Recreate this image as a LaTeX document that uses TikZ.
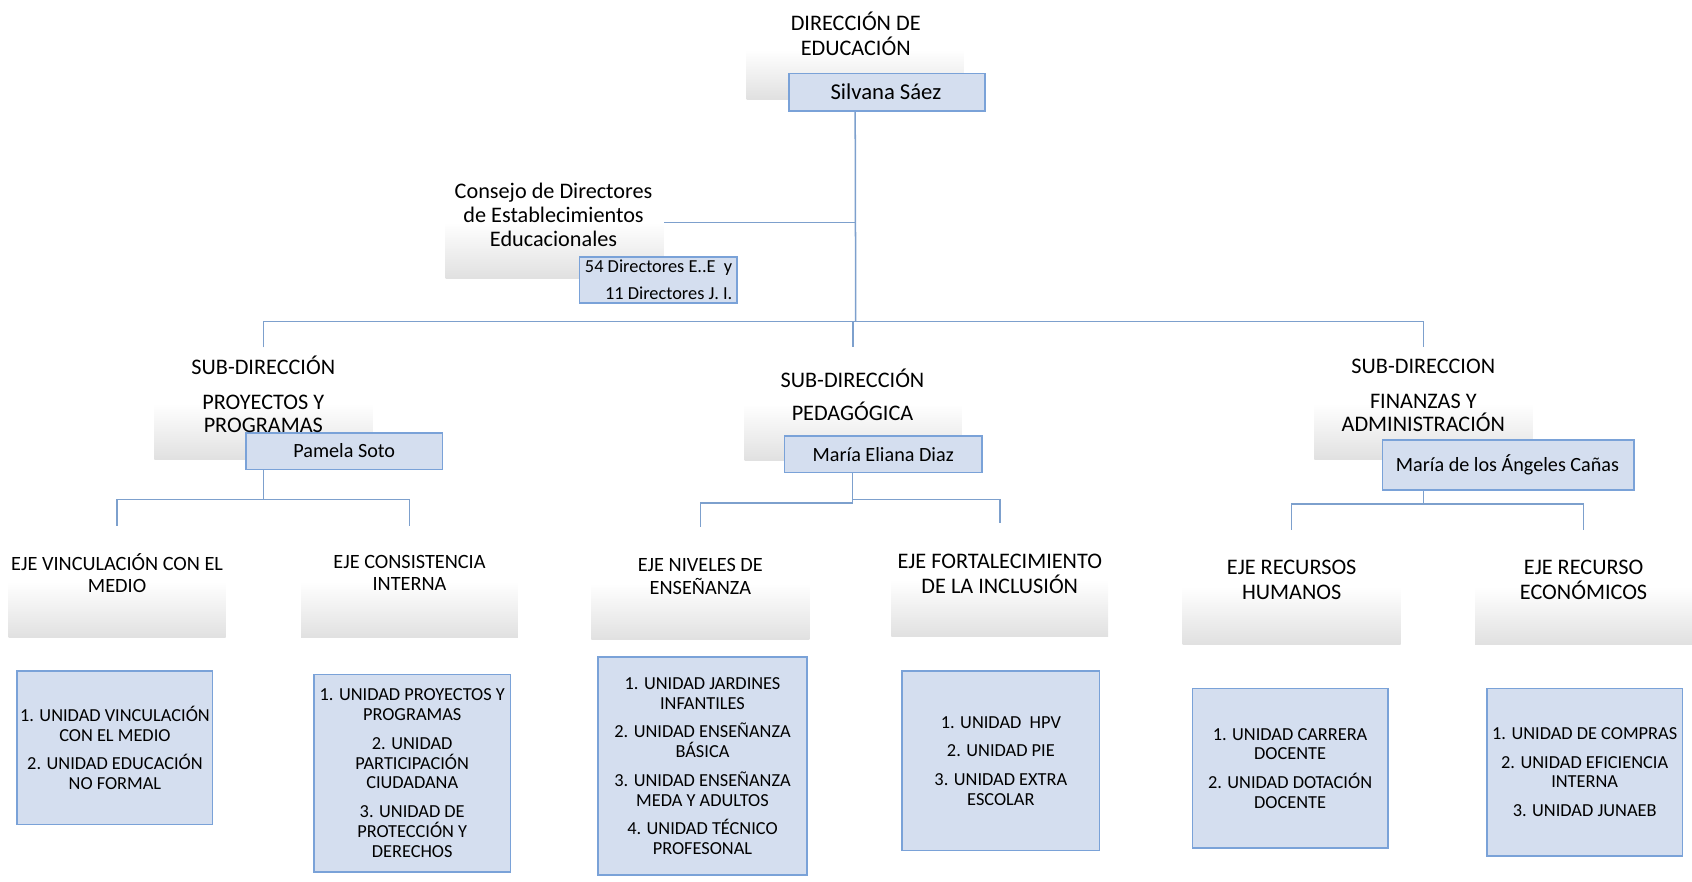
\documentclass[tikz,border=0pt]{standalone}
\usepackage{fontspec}
\setmainfont{Carlito}
\usetikzlibrary{fit}
\definecolor{bfill}{RGB}{212,222,239}
\definecolor{bdraw}{RGB}{122,162,216}
\definecolor{lnk}{RGB}{125,160,205}
\begin{document}
\begin{tikzpicture}[x=0.5pt,y=-0.5pt,
  gbox/.style={inner sep=0pt, outer sep=0pt, shade, top color=white, bottom color=black!12, middle color=white},
  nbox/.style={inner sep=0pt, outer sep=0pt, fill=bfill, draw=bdraw, line width=0.75pt},
  ubox/.style={inner sep=0pt, outer sep=0pt, fill=bfill, draw=bdraw, line width=0.75pt},
  conn/.style={draw=lnk, line width=0.7pt},
  bigtxt/.style={font=\fontsize{10.3}{11.5}\selectfont, align=center, inner sep=0pt},
  ejetxt/.style={font=\fontsize{9.4}{10.5}\selectfont, align=center, inner sep=0pt},
  ejebig/.style={font=\fontsize{10.3}{11.5}\selectfont, align=center, inner sep=0pt},
  nametxt/.style={font=\fontsize{9.35}{11}\selectfont, inner sep=0pt},
  unittxt/.style={font=\fontsize{8.5}{9.2}\selectfont, align=center, inner sep=0pt}
]
\useasboundingbox (0,0) rectangle (1568,817);

% gradient boxes
\node[gbox, fit={(692,0) (893,92)}] (dir) {};
\node[gbox, fit={(413,154) (615,258)}] (con) {};
\node[gbox, fit={(143,322) (345,426)}] (sdl) {};
\node[gbox, fit={(690,322) (891,427)}] (sdm) {};
\node[gbox, fit={(1218,322) (1420,426)}] (sdr) {};
\node[gbox, fit={(8,487) (209,591)}] (e1) {};
\node[gbox, fit={(279,487) (480,591)}] (e2) {};
\node[gbox, fit={(548,488) (750,593)}] (e3) {};
\node[gbox, fit={(826,485) (1027,590)}] (e4) {};
\node[gbox, fit={(1096,491) (1298,597)}] (e5) {};
\node[gbox, fit={(1367,491) (1568,597)}] (e6) {};

% name boxes
\node[nbox, fit={(731,68) (913,103)}] (silb) {};
\node[nbox, fit={(537,238) (683,281)}] (dirb) {};
\node[nbox, fit={(228,401) (410,435)}] (pam) {};
\node[nbox, fit={(727,404) (910,438)}] (mel) {};
\node[nbox, fit={(1281,408) (1514,454)}] (man) {};

% connectors
\coordinate (j0) at (793,298);
\coordinate (jc) at (793,206);
\coordinate (jl) at (244,463);
\coordinate (jml) at (790,466);
\coordinate (jmr) at (790,463);
\coordinate (jr) at (1319,467);

\draw[conn] (dir.south |- silb.south) -- (j0);
\draw[conn] (jc) -- (con.east |- jc);
\draw[conn] (sdl.north) -- (sdl.north |- j0) -- (sdr.north |- j0) -- (sdr.north);
\draw[conn] (sdm.north |- j0) -- (sdm.north);

\draw[conn] (pam.south -| sdl.center) -- (jl);
\draw[conn] (e1.north) |- (jl) -| (e2.north);

\draw[conn] (mel.south -| jml) -- (jml);
\draw[conn] (e3.north) |- (jml) -- (jmr) -| (e4.north);

\draw[conn] (man.south -| jr) -- (jr);
\draw[conn] (e5.north) |- (jr) -| (e6.north);

% redraw name boxes over lines
\node[nbox, fit={(731,68) (913,103)}] {};
\node[nbox, fit={(228,401) (410,435)}] {};
\node[nbox, fit={(727,404) (910,438)}] {};
\node[nbox, fit={(1281,408) (1514,454)}] {};

% unit boxes
\node[ubox, fit={(16,622) (197,764)}] (u1) {};
\node[ubox, fit={(291,625) (473,808)}] (u2) {};
\node[ubox, fit={(554,609) (748,811)}] (u3) {};
\node[ubox, fit={(836,622) (1019,788)}] (u4) {};
\node[ubox, fit={(1105,638) (1286,786)}] (u5) {};
\node[ubox, fit={(1378,638) (1559,793)}] (u6) {};

% texts
\node[bigtxt] (tdir) at (793,31) {DIRECCIÓN DE\\EDUCACIÓN};
\node[font=\fontsize{10.5}{12}\selectfont, inner sep=0pt] (tsil) at (821,85) {Silvana Sáez};
\node[bigtxt, font=\fontsize{10.3}{11.25}\selectfont] (tcon) at (513,199) {Consejo de Directores\\de Establecimientos\\Educacionales};
\node[font=\fontsize{8.5}{12.5}\selectfont, align=right, inner sep=0pt, anchor=east] (tdirb) at (679,259.5) {54 Directores E..E\ \ y\\11 Directores J. I.};

\node[bigtxt, font=\fontsize{10.3}{11}\selectfont] (tsdl) at (244,365.5) {SUB-DIRECCIÓN\\[5pt]PROYECTOS Y\\PROGRAMAS};
\node[bigtxt, font=\fontsize{10.3}{11}\selectfont] (tsdm) at (790,366) {SUB-DIRECCIÓN\\[4.5pt]PEDAGÓGICA};
\node[bigtxt, font=\fontsize{10.3}{11}\selectfont] (tsdr) at (1319,366.5) {SUB-DIRECCION\\[5pt]FINANZAS Y\\ADMINISTRACIÓN};

\node[nametxt] (tpam) at (319,418) {Pamela Soto};
\node[nametxt] (tmel) at (818.5,421) {María Eliana Diaz};
\node[nametxt] (tman) at (1397,431) {María de los Ángeles Cañas};

\node[ejetxt] (te1) at (108.5,531) {EJE VINCULACIÓN CON EL\\MEDIO};
\node[ejetxt] (te2) at (379.5,531) {EJE CONSISTENCIA\\INTERNA};
\node[ejetxt] (te3) at (649,534) {EJE NIVELES DE\\ENSEÑANZA};
\node[ejebig] (te4) at (926.5,531.5) {EJE FORTALECIMIENTO\\DE LA INCLUSIÓN};
\node[ejebig] (te5) at (1197,537.5) {EJE RECURSOS\\HUMANOS};
\node[ejebig] (te6) at (1467.5,537.5) {EJE RECURSO\\ECONÓMICOS};

\node[unittxt] (tu1) at (u1.center) {1. UNIDAD VINCULACIÓN\\CON EL MEDIO\\[4pt]2. UNIDAD EDUCACIÓN\\NO FORMAL};
\node[unittxt] (tu2) at (u2.center) {1. UNIDAD PROYECTOS Y\\PROGRAMAS\\[4pt]2. UNIDAD\\PARTICIPACIÓN\\CIUDADANA\\[4pt]3. UNIDAD DE\\PROTECCIÓN Y\\DERECHOS};
\node[unittxt] (tu3) at (u3.center) {1. UNIDAD JARDINES\\INFANTILES\\[4pt]2. UNIDAD ENSEÑANZA\\BÁSICA\\[4pt]3. UNIDAD ENSEÑANZA\\MEDA Y ADULTOS\\[4pt]4. UNIDAD TÉCNICO\\PROFESONAL};
\node[unittxt] (tu4) at (u4.center) {1. UNIDAD\ \ HPV\\[4pt]2. UNIDAD PIE\\[4pt]3. UNIDAD EXTRA\\ESCOLAR};
\node[unittxt] (tu5) at (u5.center) {1. UNIDAD CARRERA\\DOCENTE\\[4pt]2. UNIDAD DOTACIÓN\\DOCENTE};
\node[unittxt] (tu6) at (u6.center) {1. UNIDAD DE COMPRAS\\[4pt]2. UNIDAD EFICIENCIA\\INTERNA\\[4pt]3. UNIDAD JUNAEB};
\end{tikzpicture}
\end{document}
